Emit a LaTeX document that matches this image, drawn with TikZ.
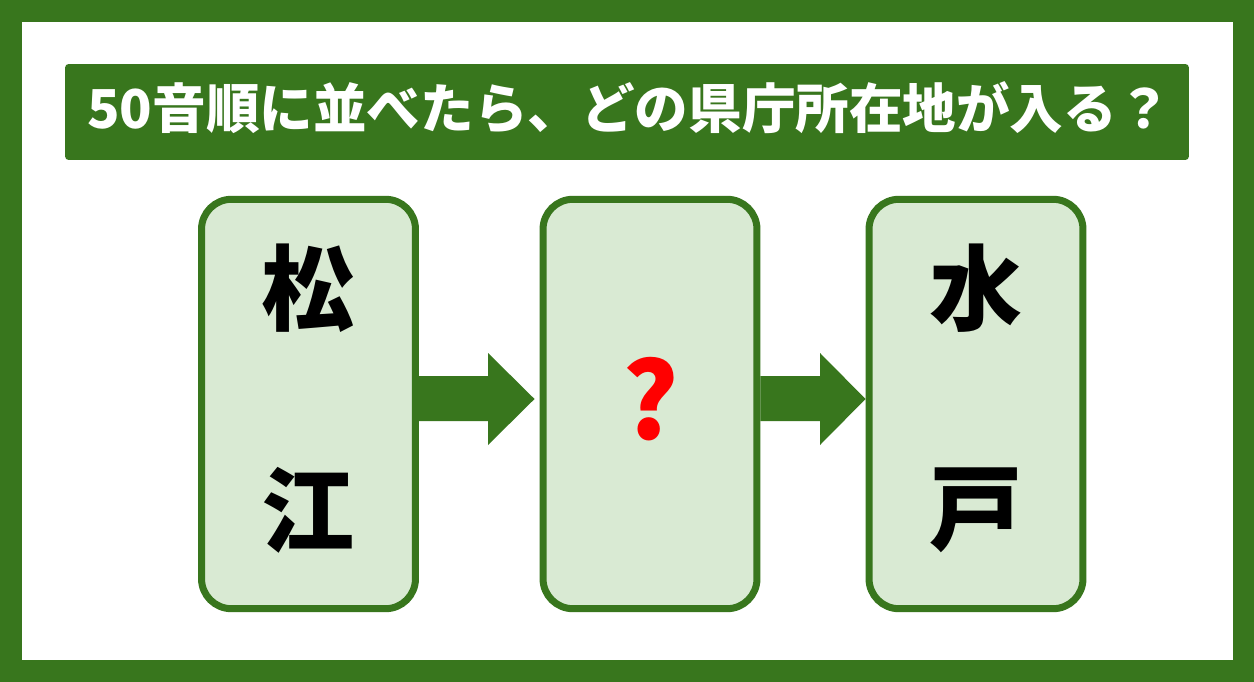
\documentclass[tikz,border=0pt]{standalone}
\usepackage{fontspec}
\newfontfamily\cjk{Noto Sans CJK JP}
\definecolor{darkgreen}{HTML}{38761D}
\definecolor{palegreen}{HTML}{D9EAD3}
\definecolor{qred}{HTML}{FF0000}
\tikzset{
  citybox/.style={rectangle, rounded corners=0.6cm, draw=darkgreen, fill=palegreen,
    line width=0.14cm, minimum width=4.28cm, minimum height=8.19cm},
  kanji/.style={font=\cjk\bfseries\fontsize{53}{53}\selectfont, text=black, inner sep=0pt},
  blockarrow/.style={fill=darkgreen}
}
\begin{document}
\begin{tikzpicture}[x=0.02cm, y=-0.02cm]
  % frame and background
  \fill[darkgreen] (0,0) rectangle (1254,682);
  \fill[white] (22,22) rectangle (1233,660);
  \useasboundingbox (0,0) rectangle (1254,682);

  % title
  \node (title) at (627,112) [rectangle, rounded corners=2pt, fill=darkgreen, minimum width=22.48cm, minimum height=1.92cm] {};
  \node (titletext) at (629,108) [font=\cjk\bfseries\fontsize{30.5}{30.5}\selectfont, text=white] {50音順に並べたら、どの県庁所在地が入る？};

  % boxes
  \node (matsue) at (308.5,404) [citybox] {};
  \node (blank) at (650,404) [citybox] {};
  \node (mito) at (976,404) [citybox] {};

  \node (ma) at (308.5,288) [kanji] {松};
  \node (tsu) at (308.5,510) [kanji] {江};
  \node (q) at (651,399) [kanji, text=qred, font=\cjk\bfseries\fontsize{60}{60}\selectfont] {?};
  \node (mi) at (976,288) [kanji] {水};
  \node (to) at (976,510) [kanji] {戸};

  % arrows
  \fill[blockarrow] (matsue.east |- 0,376) -- (488,376) -- (488,353) -- ([xshift=-0.1cm]blank.west |- 0,399)
    -- (488,445) -- (488,421) -- (matsue.east |- 0,421) -- cycle;
  \fill[blockarrow] (blank.east |- 0,376) -- (820,376) -- (820,353) -- (mito.west |- 0,399)
    -- (820,445) -- (820,421) -- (blank.east |- 0,421) -- cycle;
\end{tikzpicture}
\end{document}
